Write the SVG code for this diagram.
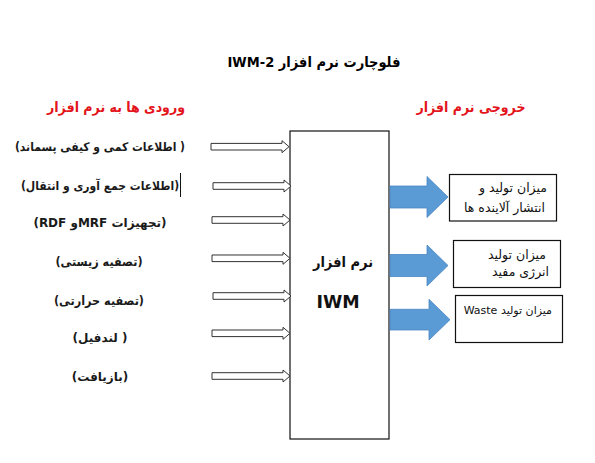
<svg xmlns="http://www.w3.org/2000/svg" xmlns:xlink="http://www.w3.org/1999/xlink" width="595" height="463" viewBox="0 0 595 463">
<style>
.ar{font-family:"DejaVu Sans","Noto Sans",sans-serif;direction:rtl;unicode-bidi:embed;}
.cond{font-family:"DejaVu Sans Condensed","DejaVu Sans",sans-serif;}
.in{font-size:12px;font-weight:bold;fill:#1a1a1a;text-anchor:middle;}
.in2{font-size:12.5px;}
.head{font-size:14px;font-weight:bold;text-anchor:middle;}
.out{font-size:12.5px;fill:#111;text-anchor:start;}
.box{fill:#fff;stroke:#111;stroke-width:1.2;}
.hollow{fill:#fff;stroke:#333;stroke-width:1;}
.blue{fill:#5B9BD5;stroke:#4A86C2;stroke-width:0.8;}
</style>
<defs>
<path id="inArrow" d="M0,-3.3 H71 V-6 L78,0 L71,6 V3.3 H0 Z"/>
<path id="blueArrow" d="M0,-11 H37 V-20.5 L58,0 L37,20.5 V11 H0 Z"/>
</defs>
<rect width="595" height="463" fill="#fff"/>

<g id="title">
<text class="ar cond head" x="314" y="67" fill="#000" style="font-size:14.5px">فلوچارت نرم افزار IWM-2</text>
</g>
<g id="inputs-heading">
<text class="ar cond head" x="116" y="112" fill="#e3141b">ورودی ها به نرم افزار</text>
</g>
<g id="outputs-heading">
<text class="ar cond head" x="471" y="112" fill="#e3141b">خروجی نرم افزار</text>
</g>

<g id="input1"><text class="ar cond in" x="100" y="151">( اطلاعات کمی و کیفی پسماند)</text></g>
<g id="input2"><text class="ar cond in" x="100" y="190">(اطلاعات جمع آوری و انتقال)</text>
<line x1="180.5" y1="173" x2="180.5" y2="197" stroke="#111" stroke-width="1"/></g>
<g id="input3"><text class="ar in" x="100" y="227">(تجهیزات  MRFو RDF)</text></g>
<g id="input4"><text class="ar cond in in2" x="99" y="266">(تصفیه زیستی)</text></g>
<g id="input5"><text class="ar cond in in2" x="99" y="305">(تصفیه حرارتی)</text></g>
<g id="input6"><text class="ar in" x="100" y="342">( لندفیل)</text></g>
<g id="input7"><text class="ar in" x="100" y="381">(بازیافت)</text></g>

<g id="iwm">
<rect class="box" x="290" y="131" width="99" height="308"/>
<text class="ar cond head" x="343" y="267" fill="#111" style="font-size:14.5px">نرم افزار</text>
<text class="ar head" x="338" y="308" fill="#111" style="font-size:17.5px">IWM</text>
</g>

<g id="output1">
<rect class="box" x="449.5" y="174.5" width="107" height="46.5"/>
<text class="ar out" x="547" y="192">میزان تولید و</text>
<text class="ar out" x="545" y="212">انتشار آلاینده ها</text>
</g>
<g id="output2">
<rect class="box" x="453.5" y="240.5" width="107" height="47"/>
<text class="ar out" x="546" y="259">میزان تولید</text>
<text class="ar out" x="549" y="276">انرژی مفید</text>
</g>
<g id="output3">
<rect class="box" x="455.5" y="295.5" width="107" height="47"/>
<text class="ar out" x="552" y="314" style="font-size:11px">میزان تولید Waste</text>
</g>

<g id="connectors">
<use xlink:href="#inArrow" class="hollow" x="211" y="146.7"/>
<use xlink:href="#inArrow" class="hollow" x="213" y="186"/>
<use xlink:href="#inArrow" class="hollow" x="212" y="220"/>
<use xlink:href="#inArrow" class="hollow" x="212" y="258.3"/>
<use xlink:href="#inArrow" class="hollow" x="213" y="296"/>
<use xlink:href="#inArrow" class="hollow" x="212" y="333.3"/>
<use xlink:href="#inArrow" class="hollow" x="212" y="376"/>
<use xlink:href="#blueArrow" class="blue" x="390" y="197"/>
<use xlink:href="#blueArrow" class="blue" x="390" y="265.5"/>
<path class="blue" d="M390,309.3 H429 V299.3 L450,319.7 L429,340 V330 H390 Z"/>
</g>
</svg>
